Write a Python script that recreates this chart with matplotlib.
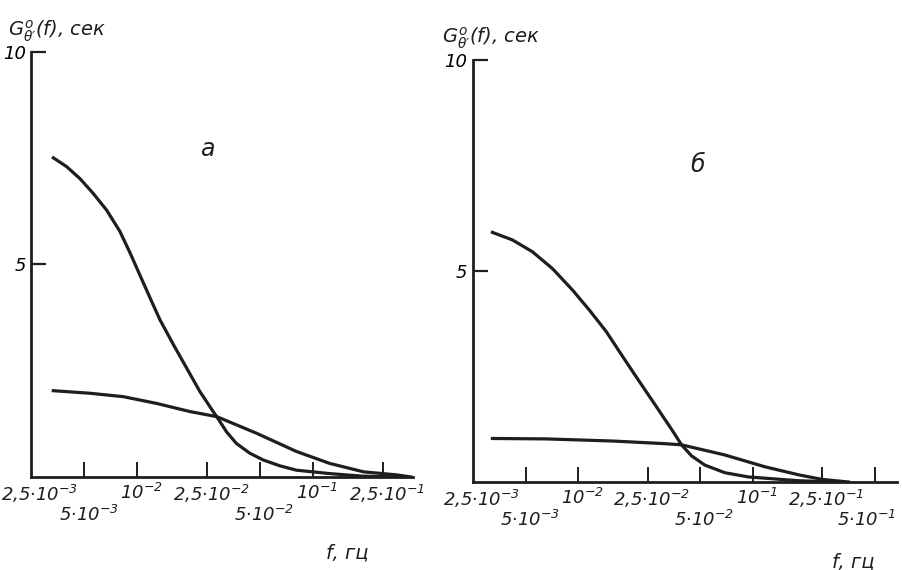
# two panels of the spectral density G(f) on a log frequency axis
import matplotlib.pyplot as plt

plt.rcParams['font.family'] = ['DejaVu Sans']
plt.rcParams['font.style'] = 'italic'
plt.rcParams['mathtext.fontset'] = 'custom'
plt.rcParams['mathtext.rm'] = 'DejaVu Sans:italic'
plt.rcParams['mathtext.it'] = 'DejaVu Sans:italic'

INK = '#1e1e1e'

# panel a
f_a_steep = [3.33e-3, 3.97e-3, 4.72e-3, 5.62e-3, 6.69e-3, 7.96e-3, 9.08e-3, 1.035e-2,
             1.18e-2, 1.345e-2, 1.607e-2, 1.91e-2, 2.27e-2, 2.70e-2, 2.83e-2, 3.22e-2,
             3.66e-2, 4.36e-2, 5.20e-2, 6.5e-2, 8.04e-2, 0.124, 0.19, 0.30]
g_a_steep = [7.51, 7.30, 7.02, 6.67, 6.28, 5.78, 5.28, 4.75,
             4.22, 3.70, 3.11, 2.56, 2.01, 1.54, 1.42, 1.06,
             0.79, 0.56, 0.40, 0.26, 0.16, 0.08, 0.02, 0.0]
f_a_flat = [3.33e-3, 5.38e-3, 8.32e-3, 1.29e-2, 1.99e-2, 2.83e-2, 4.76e-2,
            8.04e-2, 0.124, 0.194, 0.298, 0.36]
g_a_flat = [2.03, 1.97, 1.89, 1.73, 1.54, 1.42, 1.03,
            0.60, 0.32, 0.12, 0.05, 0.0]

# panel б
f_b_steep = [3.23e-3, 4.21e-3, 5.48e-3, 7.14e-3, 9.31e-3, 1.16e-2, 1.45e-2, 1.80e-2,
             2.25e-2, 2.81e-2, 3.49e-2, 3.91e-2, 4.46e-2, 5.32e-2, 6.92e-2,
             9.42e-2, 0.183, 0.30]
g_b_steep = [5.91, 5.73, 5.45, 5.05, 4.54, 4.07, 3.56, 2.97,
             2.37, 1.78, 1.20, 0.88, 0.62, 0.40, 0.22,
             0.12, 0.03, 0.0]
f_b_flat = [3.23e-3, 6.55e-3, 1.58e-2, 3.06e-2, 3.91e-2, 6.92e-2, 0.1175, 0.183, 0.251, 0.354]
g_b_flat = [1.03, 1.02, 0.97, 0.91, 0.88, 0.64, 0.36, 0.17, 0.06, 0.0]

ticks_a = [2.5e-3, 5e-3, 1e-2, 2.5e-2, 5e-2, 1e-1, 2.5e-1]
ticks_b = [2.5e-3, 5e-3, 1e-2, 2.5e-2, 5e-2, 1e-1, 2.5e-1, 5e-1]
tick_text = {
    2.5e-3: r'$2{,}5{\cdot}10^{-3}$', 5e-3: r'$5{\cdot}10^{-3}$', 1e-2: r'$10^{-2}$',
    2.5e-2: r'$2{,}5{\cdot}10^{-2}$', 5e-2: r'$5{\cdot}10^{-2}$', 1e-1: r'$10^{-1}$',
    2.5e-1: r'$2{,}5{\cdot}10^{-1}$', 5e-1: r'$5{\cdot}10^{-1}$',
}
lower_row = [5e-3, 5e-2, 5e-1]
y_label = r"$G^{o}_{\theta\prime}(f)$, сек"

fig = plt.figure(figsize=(9.03, 5.70), dpi=100)
ax_a = fig.add_axes([0.0348, 0.1632, 0.4226, 0.7456])
ax_b = fig.add_axes([0.5238, 0.1544, 0.4695, 0.7410])


def style_axes(ax, xmax, ticks):
    ax.set_xscale('log')
    ax.set_xlim(2.5e-3, xmax)
    ax.set_ylim(0, 10)
    for side in ['top', 'right']:
        ax.spines[side].set_visible(False)
    for side in ['left', 'bottom']:
        ax.spines[side].set_linewidth(2.0)
        ax.spines[side].set_color(INK)
    ax.set_yticks([5, 10])
    ax.set_yticklabels(['5', '10'], fontsize=13)
    ax.tick_params(axis='y', direction='in', length=11, width=1.6, color=INK, pad=4)
    ax.set_xticks(ticks[1:])
    ax.set_xticklabels([])
    ax.minorticks_off()
    ax.tick_params(axis='x', which='both', direction='in', length=11, width=1.4, color=INK)
    for t in ticks:
        dy = -20 if t in lower_row else -4
        dx = 6 if t == 2.5e-3 else 3
        if t == 5e-1:
            dx = -6
        ax.annotate(tick_text[t], xy=(t, 0), xycoords=('data', 'axes fraction'),
                    xytext=(dx, dy), textcoords='offset points',
                    ha='center', va='top', fontsize=13, color=INK)


style_axes(ax_a, 0.37, ticks_a)
style_axes(ax_b, 0.67, ticks_b)

ax_a.plot(f_a_steep, g_a_steep, color=INK, lw=2.3, solid_joinstyle='round')
ax_a.plot(f_a_flat, g_a_flat, color=INK, lw=2.3, solid_joinstyle='round')
ax_b.plot(f_b_steep, g_b_steep, color=INK, lw=2.3, solid_joinstyle='round')
ax_b.plot(f_b_flat, g_b_flat, color=INK, lw=2.3, solid_joinstyle='round')

ax_a.text(0.46, 0.755, 'а', transform=ax_a.transAxes, fontsize=17, color=INK, ha='center')
ax_b.text(0.53, 0.735, 'б', transform=ax_b.transAxes, fontsize=17, color=INK, ha='center')

fig.text(0.009, 0.945, y_label, fontsize=14, color=INK, va='center')
fig.text(0.490, 0.933, y_label, fontsize=14, color=INK, va='center')
fig.text(0.384, 0.030, 'f, гц', fontsize=14, color=INK, ha='center', va='center')
fig.text(0.945, 0.014, 'f, гц', fontsize=14, color=INK, ha='center', va='center')

fig.savefig('out.png', dpi=100, facecolor='white')
